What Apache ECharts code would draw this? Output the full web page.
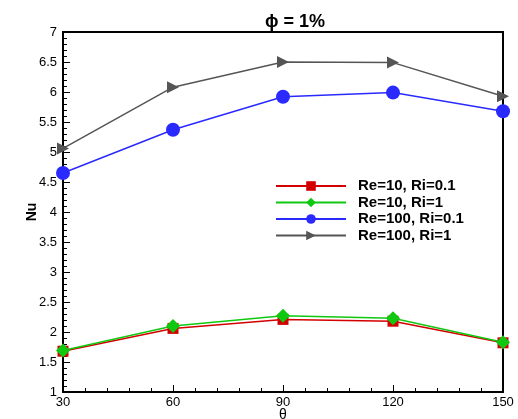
<!DOCTYPE html>
<html><head><meta charset="utf-8">
<script src="https://cdn.jsdelivr.net/npm/echarts@6/dist/echarts.min.js"></script>
<style>html,body{margin:0;padding:0;background:#fff}#c{width:518px;height:419px}</style>
</head><body><div id="c"></div>
<script>
const theta = [30, 60, 90, 120, 150];
const re10ri01 = [1.68, 2.06, 2.21, 2.18, 1.82];
const re10ri1 = [1.69, 2.10, 2.27, 2.23, 1.83];
const re100ri01 = [4.65, 5.37, 5.92, 5.99, 5.68];
const re100ri1 = [5.06, 6.08, 6.50, 6.49, 5.93];
const names = ['Re=10, Ri=0.1', 'Re=10, Ri=1', 'Re=100, Ri=0.1', 'Re=100, Ri=1'];

const pair = v => theta.map((t, i) => [t, v[i]]);
const font = 'Liberation Sans, Arial, sans-serif';
const chart = echarts.init(document.getElementById('c'));
chart.setOption({
  animation: false,
  title: { text: 'ϕ = 1%', left: 290, top: 8, textAlign: 'center',
    textStyle: { fontFamily: font, fontWeight: 'bold', fontSize: 18, color: '#000' } },
  grid: { left: 63, right: 15, top: 32, bottom: 27, show: true, borderColor: '#000', borderWidth: 2,
    outerBoundsMode: 'none', containLabel: false },
  legend: {
    orient: 'vertical', left: 275, top: 178, itemWidth: 70, itemHeight: 12, itemGap: 0.5, padding: 0,
    textStyle: { fontFamily: font, fontWeight: 'bold', fontSize: 15, lineHeight: 16, color: '#000',
      padding: [0, 0, 0, 7] },
    data: names
  },
  xAxis: {
    type: 'value', min: 30, max: 150, interval: 30,
    name: 'θ', nameLocation: 'middle', nameGap: 16, nameMoveOverlap: false,
    nameTextStyle: { fontFamily: font, fontSize: 14, color: '#000' },
    axisLine: { lineStyle: { color: '#000', width: 2 } },
    axisTick: { inside: true, length: 7, lineStyle: { color: '#000', width: 1 } },
    minorTick: { show: true, splitNumber: 5, length: 4, lineStyle: { color: '#000' } },
    splitLine: { show: false },
    axisLabel: { fontFamily: font, fontSize: 13, color: '#000', margin: 4 }
  },
  yAxis: {
    type: 'value', min: 1, max: 7, interval: 0.5,
    name: 'Nu', nameLocation: 'middle', nameGap: 24, nameRotate: 90, nameMoveOverlap: false,
    nameTextStyle: { fontFamily: font, fontSize: 14, fontWeight: 'bold', color: '#000' },
    axisLine: { lineStyle: { color: '#000', width: 2 } },
    axisTick: { inside: true, length: 7, lineStyle: { color: '#000', width: 1 } },
    minorTick: { show: true, splitNumber: 5, length: 4, lineStyle: { color: '#000' } },
    splitLine: { show: false },
    axisLabel: { fontFamily: font, fontSize: 13, color: '#000', margin: 6 }
  },
  series: [
    { name: names[0], type: 'line', data: pair(re10ri01), symbol: 'rect', symbolSize: 11,
      itemStyle: { color: '#d40000' }, lineStyle: { color: '#d40000', width: 1.5 } },
    { name: names[1], type: 'line', data: pair(re10ri1), symbol: 'diamond', symbolSize: 14,
      itemStyle: { color: '#10c810' }, lineStyle: { color: '#10c810', width: 1.5 } },
    { name: names[2], type: 'line', data: pair(re100ri01), symbol: 'circle', symbolSize: 14,
      itemStyle: { color: '#2a2aff' }, lineStyle: { color: '#2a2aff', width: 1.5 } },
    { name: names[3], type: 'line', data: pair(re100ri1), symbol: 'triangle', symbolSize: 12, symbolRotate: -90,
      itemStyle: { color: '#555555' }, lineStyle: { color: '#555555', width: 1.5 } }
  ]
});
</script></body></html>
